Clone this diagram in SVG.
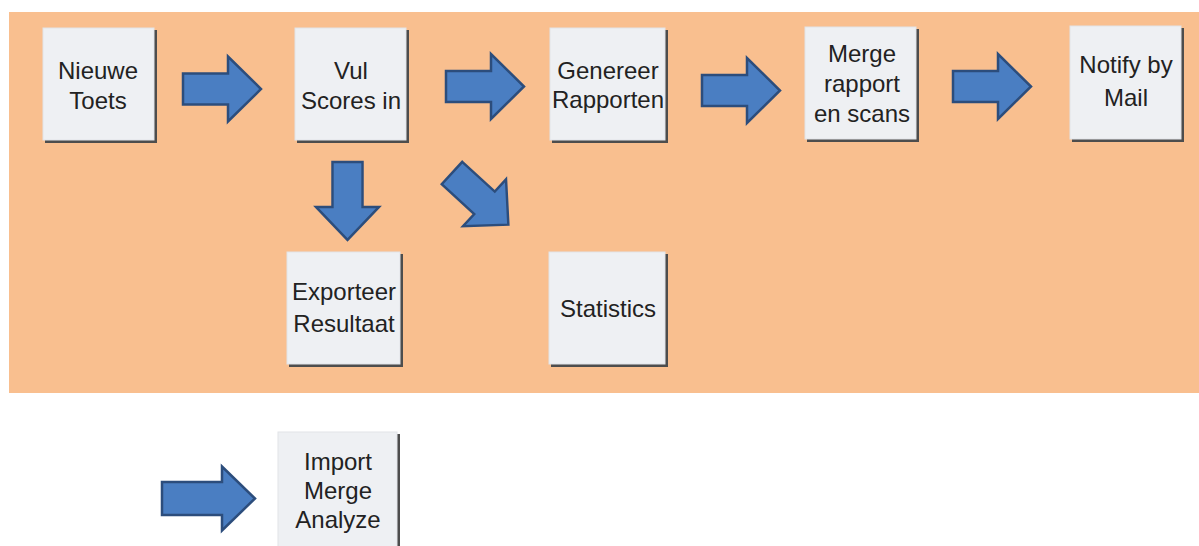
<svg xmlns="http://www.w3.org/2000/svg" width="1199" height="546" viewBox="0 0 1199 546">
  <style>
    .shadow { fill: #4d4d4d; }
    .face { fill: #eef0f3; stroke: #e2e4e8; stroke-width: 1; }
    .label { font-family: "Liberation Sans", Arial, sans-serif; font-size: 24px; fill: #222222; text-anchor: middle; }
    .arrow { fill: #4a7ec2; stroke: #2c4d7c; stroke-width: 2.5; stroke-linejoin: miter; }
  </style>
  <defs>
    <!-- standard block arrow, pointing right, back edge at x=0, centred on y=0 -->
    <path id="blockArrow" d="M0,-15.5 H45 V-32.5 L78,0 L45,32.5 V15.5 H0 Z"/>
    <path id="blockArrowLong" d="M0,-16.5 H60 V-32 L93,0 L60,32 V16.5 H0 Z"/>
  </defs>

  <rect x="0" y="0" width="1199" height="546" fill="#ffffff"/>
  <!-- workflow panel -->
  <rect id="panel" x="9" y="12" width="1190" height="381" fill="#f9bf8f"/>

  <g id="connectors">
    <use href="#blockArrow" class="arrow" transform="translate(183,89)"/>
    <use href="#blockArrow" class="arrow" transform="translate(446,86.5)"/>
    <use href="#blockArrow" class="arrow" transform="translate(702,90.5)"/>
    <use href="#blockArrow" class="arrow" transform="translate(953,86.5)"/>
    <use href="#blockArrow" class="arrow" transform="translate(347.5,162) rotate(90) scale(1,0.97)"/>
    <use href="#blockArrow" class="arrow" transform="translate(452,173) rotate(42.5) scale(0.98,0.98)"/>
    <use href="#blockArrowLong" class="arrow" transform="translate(162,498.5)"/>
  </g>

  <g id="node-nieuwe-toets">
    <rect class="shadow" x="45" y="30" width="112" height="113"/>
    <rect class="face" x="43" y="28" width="111" height="112"/>
    <text class="label" x="98" y="79">Nieuwe</text>
    <text class="label" x="98" y="109">Toets</text>
  </g>

  <g id="node-vul-scores">
    <rect class="shadow" x="297" y="30" width="112" height="113"/>
    <rect class="face" x="295" y="28" width="111" height="112"/>
    <text class="label" x="351" y="79">Vul</text>
    <text class="label" x="351" y="109">Scores in</text>
  </g>

  <g id="node-genereer-rapporten">
    <rect class="shadow" x="552" y="30" width="116" height="113"/>
    <rect class="face" x="550" y="28" width="115" height="112"/>
    <text class="label" x="608" y="79">Genereer</text>
    <text class="label" x="608" y="108">Rapporten</text>
  </g>

  <g id="node-merge-rapport">
    <rect class="shadow" x="807" y="29" width="112" height="113"/>
    <rect class="face" x="805" y="27" width="111" height="112"/>
    <text class="label" x="862" y="62">Merge</text>
    <text class="label" x="862" y="92">rapport</text>
    <text class="label" x="862" y="122">en scans</text>
  </g>

  <g id="node-notify-mail">
    <rect class="shadow" x="1072" y="28" width="112" height="114"/>
    <rect class="face" x="1070" y="26" width="111" height="113"/>
    <text class="label" x="1126" y="73">Notify by</text>
    <text class="label" x="1126" y="106">Mail</text>
  </g>

  <g id="node-exporteer-resultaat">
    <rect class="shadow" x="289" y="254" width="114" height="113"/>
    <rect class="face" x="287" y="252" width="113" height="112"/>
    <text class="label" x="344" y="300">Exporteer</text>
    <text class="label" x="344" y="332">Resultaat</text>
  </g>

  <g id="node-statistics">
    <rect class="shadow" x="551" y="254" width="117" height="113"/>
    <rect class="face" x="549" y="252" width="116" height="112"/>
    <text class="label" x="608" y="317">Statistics</text>
  </g>

  <g id="node-import-merge-analyze">
    <rect class="shadow" x="280" y="434" width="120" height="120"/>
    <rect class="face" x="278" y="432" width="119" height="120"/>
    <text class="label" x="338" y="470">Import</text>
    <text class="label" x="338" y="499">Merge</text>
    <text class="label" x="338" y="528">Analyze</text>
  </g>
</svg>
